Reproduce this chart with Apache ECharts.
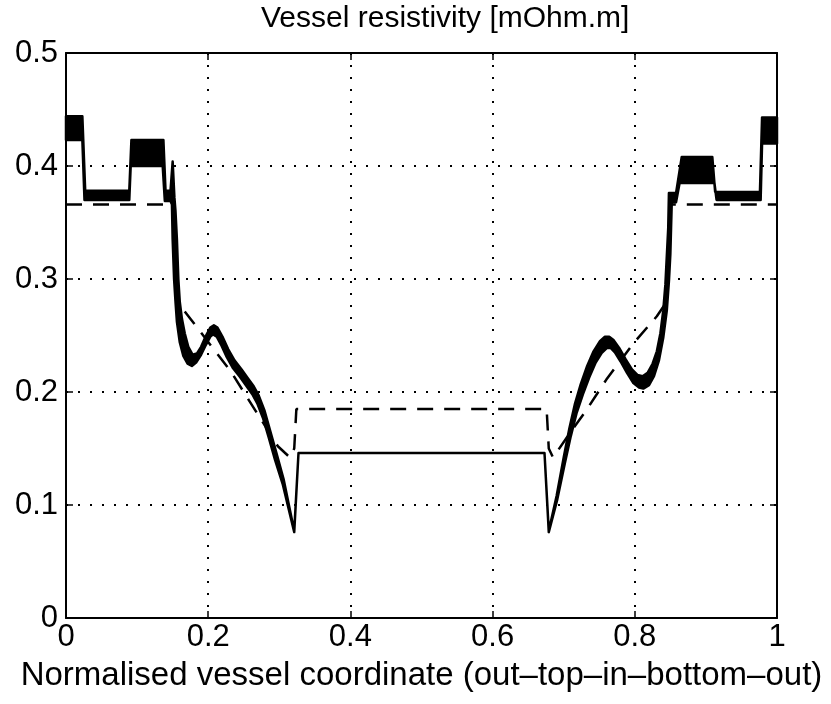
<!DOCTYPE html>
<html>
<head>
<meta charset="utf-8">
<script src="https://cdn.jsdelivr.net/npm/echarts@6/dist/echarts.min.js"></script>
<style>
html,body{margin:0;padding:0;background:#fff;}
#chart{width:831px;height:704px;}
</style>
</head>
<body>
<div id="chart"></div>
<script>
// Axis ticks
var xTicks = [0, 0.2, 0.4, 0.6, 0.8, 1];
var yTicks = [0, 0.1, 0.2, 0.3, 0.4, 0.5];

// Solid (thick) curve: upper and lower edges of the black band [x, resistivity]
var solidUpper = [
  [0,0.444],[0.023,0.444],[0.027,0.378],[0.089,0.378],[0.092,0.423],[0.137,0.423],[0.140,0.378],
  [0.147,0.378],[0.150,0.404],[0.1525,0.372],[0.154,0.360],[0.156,0.335],[0.158,0.300],[0.160,0.280],
  [0.163,0.265],[0.167,0.252],[0.172,0.240],[0.178,0.233],[0.184,0.234],[0.190,0.240],[0.197,0.250],
  [0.203,0.257],[0.208,0.259],[0.213,0.257],[0.220,0.249],[0.228,0.238],[0.237,0.228],[0.247,0.220],
  [0.256,0.212],[0.264,0.205],[0.271,0.197],[0.279,0.184],[0.287,0.166],[0.296,0.146],[0.306,0.123],
  [0.321,0.077],[0.327,0.146],[0.673,0.146],[0.679,0.077],
  [0.690,0.108],[0.700,0.142],[0.708,0.168],[0.716,0.190],[0.724,0.207],[0.733,0.223],[0.742,0.236],
  [0.751,0.245],[0.758,0.249],[0.764,0.249],[0.770,0.246],[0.778,0.239],[0.787,0.229],[0.796,0.220],
  [0.804,0.215],[0.811,0.214],[0.818,0.217],[0.825,0.225],[0.831,0.236],[0.836,0.252],[0.840,0.272],
  [0.843,0.295],[0.845,0.320],[0.847,0.345],[0.848,0.376],
  [0.858,0.376],[0.866,0.408],[0.909,0.408],[0.913,0.377],[0.976,0.377],[0.979,0.443],[1,0.443]
];
var solidLower = [
  [0,0.423],[0.023,0.423],[0.026,0.370],[0.089,0.370],[0.091,0.400],[0.136,0.400],[0.139,0.369],
  [0.147,0.369],[0.149,0.366],[0.150,0.335],[0.152,0.300],[0.154,0.280],[0.156,0.262],[0.160,0.244],
  [0.165,0.232],[0.171,0.225],[0.177,0.223],[0.183,0.226],[0.190,0.233],[0.197,0.242],[0.203,0.249],
  [0.207,0.251],[0.212,0.249],[0.218,0.242],[0.226,0.231],[0.235,0.221],[0.245,0.213],[0.254,0.205],
  [0.262,0.198],[0.269,0.190],[0.277,0.177],[0.285,0.160],[0.294,0.140],[0.305,0.118],[0.321,0.076],
  [0.327,0.146],[0.673,0.146],[0.679,0.076],
  [0.691,0.105],[0.702,0.138],[0.710,0.161],[0.718,0.181],[0.727,0.198],[0.736,0.213],[0.745,0.226],
  [0.754,0.235],[0.761,0.239],[0.766,0.239],[0.772,0.235],[0.780,0.227],[0.789,0.217],[0.798,0.208],
  [0.806,0.204],[0.812,0.203],[0.820,0.206],[0.827,0.214],[0.834,0.228],[0.840,0.248],[0.845,0.272],
  [0.848,0.298],[0.850,0.322],[0.851,0.345],[0.852,0.368],
  [0.858,0.368],[0.863,0.385],[0.912,0.385],[0.915,0.370],[0.977,0.370],[0.979,0.420],[1,0.420]
];

// Dashed curve [x, resistivity]
var dashedLine = [
  [0,0.366],[0.150,0.366],[0.154,0.290],[0.160,0.277],[0.176,0.264],[0.205,0.240],[0.231,0.219],
  [0.254,0.196],[0.275,0.175],[0.298,0.152],[0.315,0.142],[0.321,0.150],[0.324,0.185],[0.676,0.185],
  [0.679,0.150],[0.685,0.142],[0.709,0.164],[0.732,0.184],[0.760,0.211],[0.798,0.243],[0.831,0.267],
  [0.845,0.280],[0.850,0.366],[1,0.366]
];

var FONT = '"Liberation Sans", Arial, Helvetica, sans-serif';
var chart = echarts.init(document.getElementById('chart'), null, {renderer: 'canvas'});

function axisCommon(showLabel) {
  return {
    axisLine: {show: true, onZero: false, lineStyle: {color: '#000', width: 2}},
    axisTick: {show: true, inside: true, length: 7, lineStyle: {color: '#000', width: 1.5}},
    axisLabel: {show: showLabel, color: '#000', fontFamily: FONT, fontSize: 31},
    splitLine: {show: false}
  };
}
var gridDots = {show: true, lineStyle: {color: '#000', width: 2, type: [2, 10]}};

var option = {
  animation: false,
  backgroundColor: '#fff',
  title: {
    text: 'Vessel resistivity [mOhm.m]',
    left: 256, top: -1,
    textStyle: {fontFamily: FONT, fontSize: 30, fontWeight: 'normal', color: '#000'}
  },
  grid: {left: 66, right: 54, top: 53, bottom: 86, containLabel: false, outerBoundsMode: 'none'},
  xAxis: [
    Object.assign({
      type: 'value', min: 0, max: 1, interval: 0.2, position: 'bottom',
      name: 'Normalised vessel coordinate (out\u2013top\u2013in\u2013bottom\u2013out)',
      nameLocation: 'middle', nameGap: 41,
      nameTextStyle: {fontFamily: FONT, fontSize: 33, color: '#000'}
    }, axisCommon(true), {
      axisLabel: {show: true, color: '#000', fontFamily: FONT, fontSize: 31, margin: 4,
        formatter: function(v){ var r = Math.round(v*10)/10; return xTicks.indexOf(r) >= 0 ? String(r) : ''; }},
      splitLine: gridDots
    }),
    Object.assign({type: 'value', min: 0, max: 1, interval: 0.2, position: 'top'}, axisCommon(false))
  ],
  yAxis: [
    Object.assign({type: 'value', min: 0, max: 0.5, interval: 0.1, position: 'left'}, axisCommon(true), {
      axisLabel: {show: true, color: '#000', fontFamily: FONT, fontSize: 31, margin: 8,
        formatter: function(v){ var r = Math.round(v*10)/10; return yTicks.indexOf(r) >= 0 ? String(r) : ''; }},
      splitLine: gridDots
    }),
    Object.assign({type: 'value', min: 0, max: 0.5, interval: 0.1, position: 'right'}, axisCommon(false))
  ],
  series: [
    {
      type: 'line', name: 'dashed', xAxisIndex: 0, yAxisIndex: 0,
      data: dashedLine, symbol: 'none', z: 2,
      lineStyle: {color: '#000', width: 2.5, type: [16, 11]}
    },
    {
      type: 'custom', name: 'solid', xAxisIndex: 0, yAxisIndex: 0, z: 3,
      data: [[0, 0]],
      renderItem: function(params, api) {
        var pts = [];
        for (var i = 0; i < solidUpper.length; i++) pts.push(api.coord(solidUpper[i]));
        for (var j = solidLower.length - 1; j >= 0; j--) pts.push(api.coord(solidLower[j]));
        return {
          type: 'polygon',
          shape: {points: pts},
          style: {fill: '#000', stroke: '#000', lineWidth: 2.5, lineJoin: 'round'}
        };
      }
    }
  ]
};
chart.setOption(option);
</script>
</body>
</html>
